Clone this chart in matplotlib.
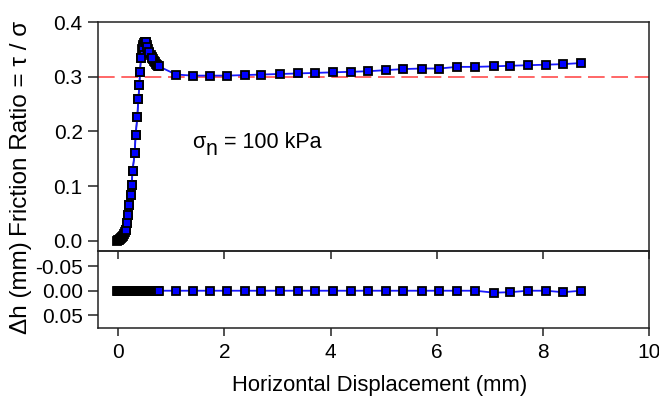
import matplotlib
matplotlib.use("Agg")
import matplotlib.pyplot as plt
from matplotlib.transforms import offset_copy

plt.rcParams['font.family'] = ['Liberation Sans', 'DejaVu Sans']

# Dense raw data (black) during initial shearing
x_dense = [-0.03, -0.01, 0.01, 0.03, 0.05, 0.07, 0.09, 0.11, 0.13,
           0.145, 0.164, 0.188, 0.207, 0.239, 0.255, 0.27, 0.31, 0.33, 0.36, 0.38, 0.40,
           0.41, 0.43, 0.45, 0.47, 0.49, 0.51, 0.53, 0.55, 0.57, 0.59, 0.61, 0.63, 0.65,
           0.67, 0.69, 0.71, 0.73, 0.75]
fr_dense = [0.000, 0.001, 0.002, 0.003, 0.005, 0.007, 0.009, 0.012, 0.016,
            0.020, 0.032, 0.047, 0.066, 0.084, 0.102, 0.127, 0.160, 0.194, 0.227, 0.259, 0.285,
            0.309, 0.334, 0.350, 0.358, 0.362, 0.364, 0.363, 0.358, 0.350, 0.344, 0.340, 0.336,
            0.332, 0.329, 0.326, 0.324, 0.322, 0.320]
x_dense_dh = [-0.03, -0.01, 0.01, 0.03, 0.05, 0.07, 0.09, 0.11, 0.13, 0.15, 0.17, 0.19,
              0.21, 0.23, 0.25, 0.27, 0.29, 0.31, 0.33, 0.35, 0.37, 0.39, 0.41, 0.43,
              0.45, 0.47, 0.49, 0.51, 0.53, 0.55, 0.57, 0.59, 0.61, 0.63, 0.65, 0.67,
              0.69, 0.71, 0.73, 0.75]
dh_dense = [0.0] * len(x_dense_dh)

# Sampled data (blue) – friction ratio
x_fr = [0.145, 0.164, 0.188, 0.207, 0.239, 0.255, 0.27, 0.31, 0.33, 0.36, 0.38, 0.40,
        0.41, 0.43, 0.46, 0.50, 0.53, 0.55, 0.58, 0.64, 0.765,
        1.09, 1.41, 1.73, 2.05, 2.38, 2.70, 3.05, 3.39, 3.71, 4.04, 4.38, 4.71,
        5.04, 5.37, 5.72, 6.05, 6.38, 6.73, 7.08, 7.38, 7.72, 8.06, 8.38, 8.72]
fr = [0.020, 0.032, 0.047, 0.066, 0.084, 0.102, 0.127, 0.160, 0.194, 0.227, 0.259, 0.285,
      0.309, 0.334, 0.355, 0.363, 0.364, 0.355, 0.346, 0.334, 0.319,
      0.304, 0.302, 0.302, 0.302, 0.303, 0.304, 0.305, 0.306, 0.307, 0.308, 0.309, 0.310,
      0.312, 0.314, 0.315, 0.315, 0.318, 0.318, 0.319, 0.320, 0.321, 0.322, 0.323, 0.325]

# Sampled data (blue) – vertical displacement
x_dh = [0.765, 1.09, 1.41, 1.73, 2.05, 2.38, 2.70, 3.05, 3.39, 3.71, 4.04, 4.38, 4.71,
        5.04, 5.37, 5.72, 6.05, 6.38, 6.73, 7.08, 7.38, 7.72, 8.06, 8.38, 8.72]
dh = [0.0, 0.0, 0.0, 0.0, 0.0, 0.0, 0.0, 0.0, 0.0, 0.0, 0.0, 0.0, 0.0,
      0.0, 0.0, 0.0, 0.0, 0.0, 0.0, 0.004, 0.003, 0.0, 0.0, 0.003, 0.0]

ref_ratio = 0.3
x_ticks = [0, 2, 4, 6, 8, 10]
fr_ticks = [0.0, 0.1, 0.2, 0.3, 0.4]
dh_ticks = [-0.05, 0.00, 0.05]

fig = plt.figure(figsize=(6.59, 3.97), dpi=100)
W, H = 659, 397
left, right = 98 / W, 649 / W
ax1 = fig.add_axes([left, 1 - 251 / H, right - left, (251 - 22) / H])
ax2 = fig.add_axes([left, 1 - 328 / H, right - left, (328 - 251) / H])
ax2.patch.set_visible(False)

fs = 15
mk = dict(marker='s', markersize=6.0, markeredgecolor='black', markeredgewidth=1.3)

ax1.axhline(ref_ratio, color='#ff4d4d', lw=1.2, dashes=(10, 4), zorder=1)
ax1.plot(x_dense, fr_dense, color='black', lw=1, markerfacecolor='black', zorder=2, **mk)
ax1.plot(x_fr, fr, color='#1a1aff', lw=1.3, markerfacecolor='#0000ff', zorder=3, **mk)

ax2.plot(x_dense_dh, dh_dense, color='black', lw=1, markerfacecolor='black', zorder=2, **mk)
ax2.plot(x_dh, dh, color='#1a1aff', lw=1.3, markerfacecolor='#0000ff', zorder=3, **mk)

xmin, xmax = -0.38, 10.0
for ax in (ax1, ax2):
    ax.set_xlim(xmin, xmax)
    for s in ax.spines.values():
        s.set_linewidth(1.1)
        s.set_color('#222222')
    ax.tick_params(axis='both', labelsize=fs, width=1.1, color='#222222', length=7,
                   direction='out', pad=4)

ax1.set_ylim(-0.0185, 0.4)
ax1.set_yticks(fr_ticks)
ax1.set_yticklabels([f"{v:.1f}" for v in fr_ticks])
ax1.set_xticks(x_ticks)
ax1.tick_params(axis='x', bottom=True, labelbottom=False, length=6)

ax2.set_ylim(0.076, -0.081)
ax2.set_yticks(dh_ticks)
ax2.set_yticklabels([f"{v:.2f}" for v in dh_ticks])
ax2.set_xticks(x_ticks)
ax2.tick_params(axis='x', length=6, pad=5)
ax2.set_xticklabels([str(v) for v in x_ticks])

# annotation: sigma with a large, low subscript n
ann_fs = 15.5
t1 = ax1.text(1.39, 0.170, "\u03c3", fontsize=ann_fs, ha='left', va='baseline')
fig.canvas.draw()
r = fig.canvas.get_renderer()
w1 = t1.get_window_extent(r).width * 72 / fig.dpi
t2 = ax1.text(1.39, 0.170, "n", fontsize=ann_fs,
              transform=offset_copy(ax1.transData, fig=fig, x=w1 + 0.3, y=-5.5, units='points'),
              ha='left', va='baseline')
w2 = t2.get_window_extent(r).width * 72 / fig.dpi
ax1.text(1.39, 0.170, " = 100 kPa", fontsize=ann_fs,
         transform=offset_copy(ax1.transData, fig=fig, x=w1 + w2 + 1.0, y=0, units='points'),
         ha='left', va='baseline')

fig.text(21 / W, 1 - 128 / H, "Friction Ratio = \u03c4 / \u03c3", rotation=90,
         fontsize=17.5, ha='center', va='center')
fig.text(21 / W, 1 - 288 / H, "\u0394h (mm)", rotation=90,
         fontsize=17.5, ha='center', va='center')
fig.text(380 / W, 1 - 386 / H, "Horizontal Displacement (mm)",
         fontsize=15.8, ha='center', va='center')

fig.savefig("out.png", dpi=100)
